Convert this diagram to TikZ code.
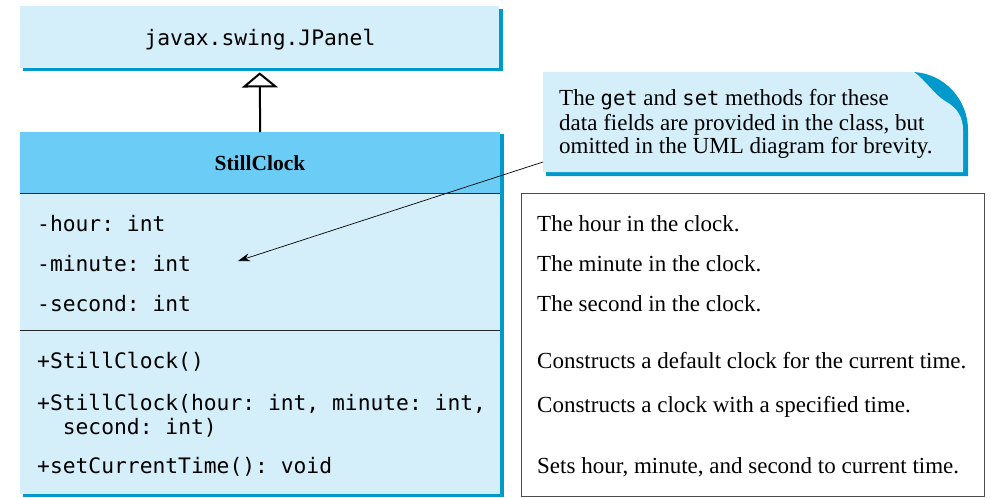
\documentclass[tikz,border=0pt]{standalone}
\usepackage{fontspec}
\setmainfont{Liberation Serif}
\setmonofont{DejaVu Sans Mono}
\usetikzlibrary{arrows.meta}
\definecolor{lightfill}{HTML}{D4EEFA}
\definecolor{headfill}{HTML}{6BCDF5}
\definecolor{shadowblue}{HTML}{0099CC}
\newcommand{\smallmono}[1]{{\fontsize{20.5}{24}\selectfont\ttfamily #1}}
\begin{document}
\begin{tikzpicture}[x=1pt,y=-1pt,
  serif/.style={font=\fontsize{23}{27}\selectfont, inner sep=0pt, anchor=base west},
  mono/.style={font=\ttfamily\fontsize{21.3}{25}\selectfont, inner sep=0pt, anchor=base west},
  sepline/.style={draw=black!85, line width=1pt}]
\useasboundingbox (0,0) rectangle (991,498);

% JPanel
\fill[shadowblue] (23,9) rectangle (503,71);
\node[fill=lightfill, minimum width=479pt, minimum height=62pt, anchor=north west, inner sep=0pt] (panel) at (20,6) {};
\node[mono, anchor=base] (paneltext) at (260,45) {javax.swing.JPanel};

% StillClock
\fill[shadowblue] (23,134) rectangle (504,497);
\node[fill=lightfill, minimum width=480pt, minimum height=362pt, anchor=north west, inner sep=0pt] (clock) at (20,132) {};
\node[fill=headfill, minimum width=480pt, minimum height=61pt, anchor=north west, inner sep=0pt] (clockhead) at (20,132) {};
\node[font=\bfseries\fontsize{21.5}{25}\selectfont, inner sep=0pt, anchor=base] (clockname) at (260,170) {StillClock};
\draw[sepline] (clockhead.south west) -- (clockhead.south east);
\coordinate (sepL) at (20,330);
\coordinate (sepR) at (500,330);
\draw[sepline] (sepL) -- (sepR);

\node[mono] (f1) at (37,231) {-hour: int};
\node[mono] (f2) at (37,271) {-minute: int};
\node[mono] (f3) at (37,311) {-second: int};
\node[mono] (m1) at (37,368) {+StillClock()};
\node[mono] (m2) at (37,410) {+StillClock(hour: int, minute: int,};
\node[mono] (m2b) at (37,434) {\ \ second: int)};
\node[mono] (m3) at (37,473) {+setCurrentTime(): void};

% description box
\node[draw=black!70, line width=1pt, minimum width=463pt, minimum height=303pt, anchor=north west, inner sep=0pt] (desc) at (521,193) {};
\node[serif] (d1) at (537,231) {The hour in the clock.};
\node[serif] (d2) at (537,271) {The minute in the clock.};
\node[serif] (d3) at (537,311) {The second in the clock.};
\node[serif] (d4) at (537,368) {Constructs a default clock for the current time.};
\node[serif] (d5) at (537,412) {Constructs a clock with a specified time.};
\node[serif] (d6) at (537,473) {Sets hour, minute, and second to current time.};

% callout
\fill[shadowblue] (546,75) -- (914,72) .. controls (945,74) and (968,100) .. (968,130) -- (968,176) -- (546,176) -- cycle;
\fill[lightfill] (543,72) -- (914,72) .. controls (925,80) and (935,95) .. (945,101) .. controls (958,108) and (963,118) .. (963,130) -- (963,172) -- (543,172) -- cycle;
\node[serif] (c1) at (559,105) {The \smallmono{get} and \smallmono{set} methods for these};
\node[serif] (c2) at (559,130) {data fields are provided in the class, but};
\node[serif] (c3) at (559,153) {omitted in the UML diagram for brevity.};

\coordinate (notept) at (543,162);
\coordinate (fieldpt) at (238,261);
\draw[line width=0.7pt, -{Stealth[length=12pt,width=8pt]}] (notept) -- (fieldpt);

% inheritance
\draw[line width=2pt, -{Triangle[open, length=15pt, width=36pt, fill=white]}] (clockhead.north) -- ([yshift=-4pt]panel.south);
\end{tikzpicture}
\end{document}
